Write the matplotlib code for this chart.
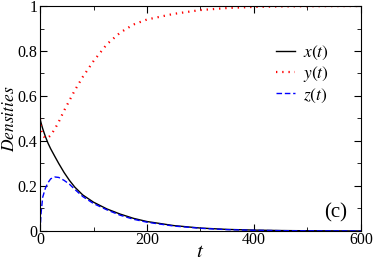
import matplotlib
matplotlib.use("Agg")
import matplotlib.pyplot as plt
from matplotlib.ticker import MultipleLocator

plt.rcParams['font.family'] = ['Liberation Serif', 'DejaVu Serif']
plt.rcParams['mathtext.fontset'] = 'stix'

# values
t = [0, 2, 5, 10, 15, 20, 28, 35, 45, 55, 65, 80, 100, 125, 150, 175, 200,
     250, 300, 350, 400, 450, 500, 600]
x_t = [0.5, 0.48, 0.455, 0.42, 0.39, 0.365, 0.33, 0.30, 0.26, 0.225, 0.195,
       0.16, 0.128, 0.098, 0.075, 0.056, 0.042, 0.024, 0.013, 0.007, 0.004,
       0.002, 0.001, 0.0]
y_t = [0.5, 0.45, 0.425, 0.413, 0.415, 0.425, 0.455, 0.485, 0.535, 0.58,
       0.625, 0.685, 0.755, 0.83, 0.882, 0.918, 0.94, 0.965, 0.982, 0.991,
       0.996, 0.998, 0.999, 1.0]
z_t = [0.0, 0.08, 0.15, 0.19, 0.215, 0.232, 0.24, 0.238, 0.225, 0.208, 0.185,
       0.153, 0.122, 0.094, 0.07, 0.052, 0.039, 0.022, 0.012, 0.006, 0.003,
       0.0015, 0.0008, 0.0]

fig = plt.figure(figsize=(3.74, 2.61), dpi=100)
ax = fig.add_axes([0.107, 0.115, 0.858, 0.862])

ax.plot(t, x_t, color='black', lw=1.0, label='$x(t)$')
ax.plot(t, y_t, color='red', lw=1.6, linestyle=(0, (0.6, 2.2)), label='$y(t)$')
ax.plot(t, z_t, color='blue', lw=1.0, linestyle=(0, (4, 2)), label='$z(t)$')

ax.set_xlim(0, 600)
ax.set_ylim(0, 1)
ax.xaxis.set_major_locator(MultipleLocator(200))
ax.xaxis.set_minor_locator(MultipleLocator(100))
ax.yaxis.set_minor_locator(MultipleLocator(0.1))
ax.set_yticks([0, 0.2, 0.4, 0.6, 0.8, 1])
ax.set_yticklabels(['0', '0.2', '0.4', '0.6', '0.8', '1'])
ax.tick_params(which='both', direction='in', top=True, right=True, labelsize=11.5)
ax.tick_params(axis='x', pad=1)
ax.tick_params(axis='y', pad=2)
ax.tick_params(which='major', length=5)
ax.tick_params(which='minor', length=3)

ax.set_xlabel('$t$', fontsize=15)
ax.set_ylabel('$Densities$', fontsize=12.5)
ax.xaxis.set_label_coords(0.5, -0.055)
ax.yaxis.set_label_coords(-0.07, 0.5)

ax.legend(loc='upper right', bbox_to_anchor=(0.95, 0.9), frameon=False,
          fontsize=12.5, handlelength=1.1, handletextpad=0.5, labelspacing=0.12)
ax.text(0.956, 0.04, '(c)', transform=ax.transAxes, fontsize=15, ha='right', va='bottom')

fig.savefig('out.png', dpi=100)
